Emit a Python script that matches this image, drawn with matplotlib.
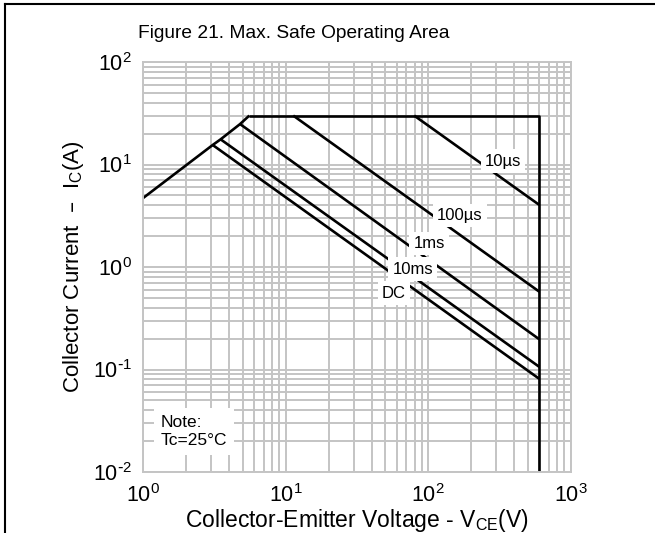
import matplotlib
matplotlib.use("Agg")
import matplotlib.pyplot as plt
from matplotlib.lines import Line2D
from matplotlib.ticker import FuncFormatter
import math

plt.rcParams['font.family'] = ['Liberation Sans', 'DejaVu Sans']
plt.rcParams['mathtext.default'] = 'regular'
plt.rcParams['axes.unicode_minus'] = False

# Data (V, A)
rise_v = [1.0, 3.08, 3.5, 4.79, 5.56]
rise_i = [4.7, 15.5, 17.6, 24.8, 30.0]
limit_v = [5.56, 600, 600]
limit_i = [30.0, 30.0, 0.01]
us10_v = [79.6, 600]
us10_i = [30.0, 4.03]
us100_v = [11.3, 600]
us100_i = [30.0, 0.574]
ms1_v = [4.79, 600]
ms1_i = [24.8, 0.197]
ms10_v = [3.5, 600]
ms10_i = [17.6, 0.106]
dc_v = [3.08, 600]
dc_i = [15.5, 0.081]

labels = ["10µs", "100µs", "1ms", "10ms", "DC"]
label_v = [333, 166, 101, 78, 57.4]
label_i = [10.8, 3.2, 1.69, 0.955, 0.557]


def pow_fmt(val, pos):
    e = int(round(math.log10(val)))
    if e < 0:
        return r'$10^{\text{-}%d}$' % (-e)
    return r'$10^{%d}$' % e


W, H = 655, 533
fig = plt.figure(figsize=(W / 100, H / 100), dpi=100)
ax = fig.add_axes([143 / W, 1 - 472 / H, 428 / W, 410 / H])
ax.set_xscale('log')
ax.set_yscale('log')
ax.set_xlim(1, 1000)
ax.set_ylim(0.01, 100)
ax.xaxis.set_major_formatter(FuncFormatter(pow_fmt))
ax.yaxis.set_major_formatter(FuncFormatter(pow_fmt))

gc = '#c4c4c4'
ax.grid(True, which='both', color=gc, linewidth=1.4)
for s in ax.spines.values():
    s.set_color(gc)
    s.set_linewidth(1.4)
ax.tick_params(which='both', length=0, labelsize=15.5)
ax.tick_params(axis='x', pad=9)
ax.tick_params(axis='y', pad=8)
ax.set_axisbelow(True)

lw = 1.9
for v, i in [(rise_v, rise_i), (limit_v, limit_i), (us10_v, us10_i),
             (us100_v, us100_i), (ms1_v, ms1_i), (ms10_v, ms10_i), (dc_v, dc_i)]:
    ax.plot(v, i, color='black', linewidth=lw, solid_capstyle='butt', clip_on=True)

for t, v, i in zip(labels, label_v, label_i):
    ax.text(v, i, t, fontsize=12, ha='center', va='center',
            bbox=dict(facecolor='white', edgecolor='none', pad=3))

ax.text(0.042, 0.14, "Note:\nTc=25°C", transform=ax.transAxes, fontsize=12.5,
        ha='left', va='top', linespacing=1.25,
        bbox=dict(facecolor='white', edgecolor='none', pad=5))

fig.text(294 / W, 1 - 33 / H, "Figure 21. Max. Safe Operating Area", fontsize=13.8,
         ha='center', va='center')
ax.set_xlabel("Collector-Emitter Voltage - V$_{CE}$(V)", fontsize=16.5)
ax.set_ylabel("Collector Current  –  I$_{C}$(A)", fontsize=16)
ax.xaxis.set_label_coords(0.5, -0.086)
ax.yaxis.set_label_coords(-0.133, 0.5)

# figure frame lines
fig.add_artist(Line2D([4.5 / W, 1.0], [1 - 3.5 / H, 1 - 3.5 / H], color='black', linewidth=1.5, transform=fig.transFigure))
fig.add_artist(Line2D([4.5 / W, 4.5 / W], [0, 1 - 3.5 / H], color='black', linewidth=1.5, transform=fig.transFigure))

fig.savefig("out.png", dpi=100)
